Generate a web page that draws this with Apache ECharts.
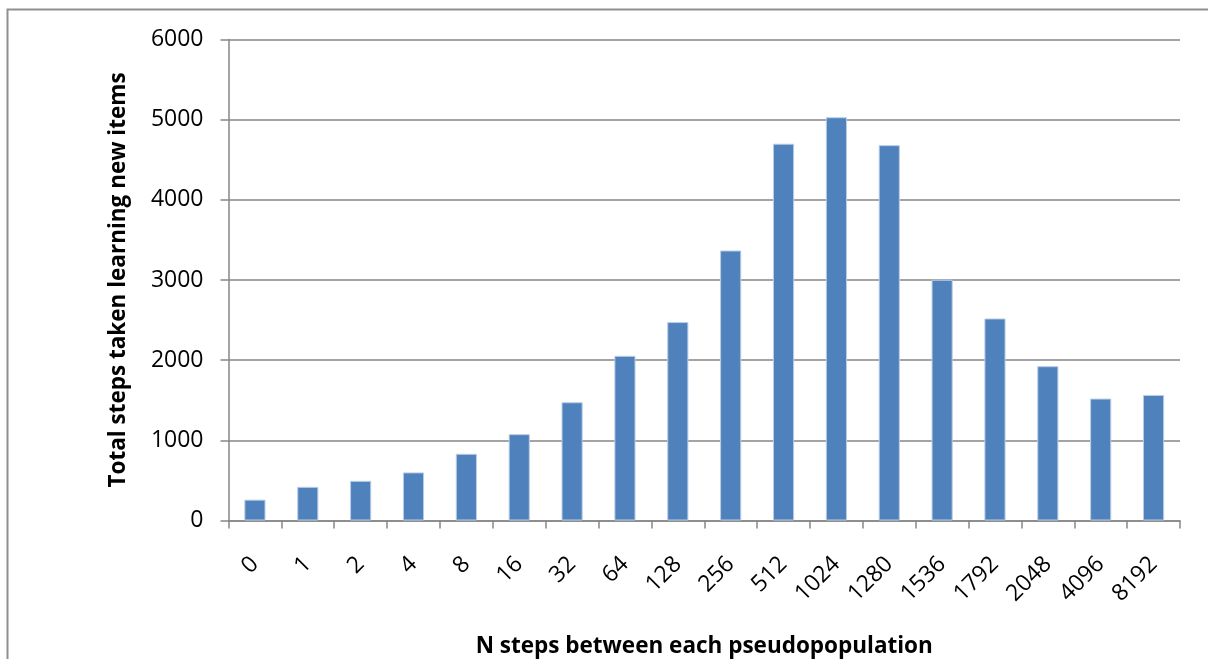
<!DOCTYPE html>
<html>
<head>
<meta charset="utf-8">
<script src="https://cdn.jsdelivr.net/npm/echarts@6/dist/echarts.min.js"></script>
<style>
html,body{margin:0;padding:0;background:#fff;}
#chart{width:1208px;height:659px;}
</style>
</head>
<body>
<div id="chart"></div>
<script>
const categories = ['0','1','2','4','8','16','32','64','128','256','512','1024','1280','1536','1792','2048','4096','8192'];
const totalSteps = [260, 420, 495, 600, 832, 1077, 1475, 2054, 2475, 3368, 4700, 5030, 4682, 3003, 2520, 1925, 1521, 1566];
const yTicks = {min: 0, max: 6000, interval: 1000};
const xTitle = 'N steps between each pseudopopulation';
const yTitle = 'Total steps taken learning new items';

const FONT = '"Open Sans", "Liberation Sans", sans-serif';
const chart = echarts.init(document.getElementById('chart'), null, {renderer: 'canvas'});
chart.setOption({
  backgroundColor: '#ffffff',
  animation: false,
  graphic: [{
    type: 'rect',
    shape: {x: 7.5, y: 9.5, width: 1400, height: 900},
    style: {fill: 'none', stroke: '#8f8f8f', lineWidth: 2},
    silent: true, z: -1
  }],
  grid: {left: 228.5, right: 28, top: 39.5, bottom: 138.5, containLabel: false, outerBoundsMode: 'none'},
  xAxis: {
    type: 'category',
    data: categories,
    name: xTitle,
    nameLocation: 'middle',
    nameGap: 115,
    nameTextStyle: {fontSize: 22.5, fontWeight: 'bold', fontFamily: FONT, color: '#000'},
    axisLine: {show: true, lineStyle: {color: '#868686', width: 1.5}},
    axisTick: {show: true, length: 8, lineStyle: {color: '#868686', width: 1.5}},
    axisLabel: {rotate: 45, margin: 40, interval: 0, fontSize: 23, fontFamily: FONT, color: '#000'},
    splitLine: {show: false}
  },
  yAxis: {
    type: 'value',
    min: yTicks.min, max: yTicks.max, interval: yTicks.interval,
    name: yTitle,
    nameLocation: 'middle',
    nameGap: 98,
    nameRotate: 90,
    nameTextStyle: {fontSize: 22.5, fontWeight: 'bold', fontFamily: FONT, color: '#000'},
    axisLine: {show: true, lineStyle: {color: '#868686', width: 1.5}},
    axisTick: {show: true, length: 8, lineStyle: {color: '#868686', width: 1.5}},
    axisLabel: {margin: 25, fontSize: 23, fontFamily: FONT, color: '#000', formatter: v => String(v)},
    splitLine: {show: true, lineStyle: {color: '#868686', width: 1.5}}
  },
  series: [{
    type: 'bar',
    data: totalSteps,
    barWidth: '40%',
    itemStyle: {color: '#4F81BD', borderColor: '#B9CDE5', borderWidth: 1}
  }]
});
</script>
</body>
</html>
